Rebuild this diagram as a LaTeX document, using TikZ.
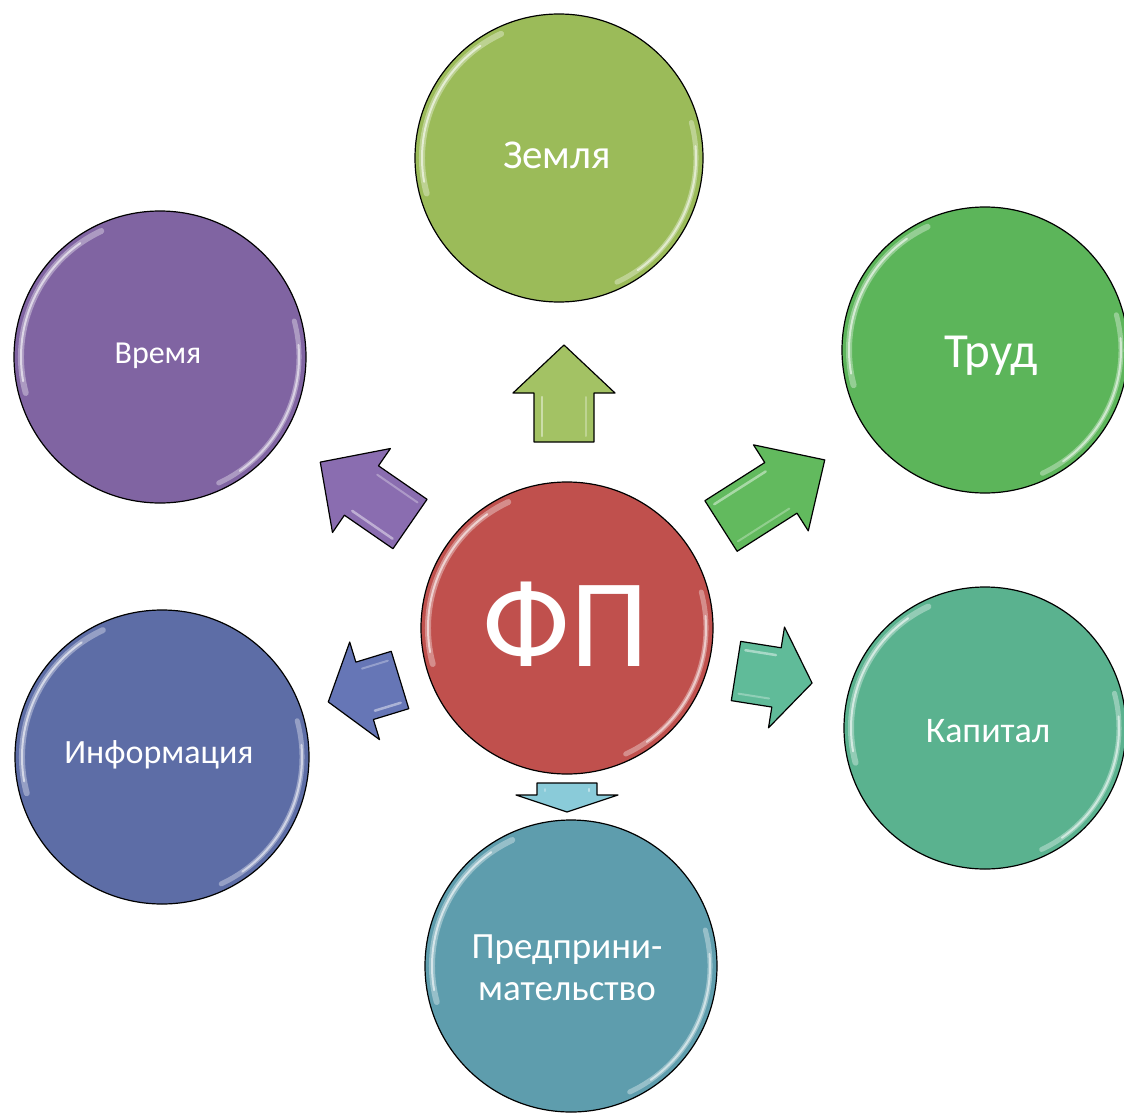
\documentclass[tikz,border=0pt]{standalone}
\usepackage{fontspec}
\setmainfont{Carlito}
\definecolor{czem}{HTML}{9BBB59}
\definecolor{cvre}{HTML}{8064A2}
\definecolor{ctru}{HTML}{5CB55A}
\definecolor{ckap}{HTML}{5AB28F}
\definecolor{cpre}{HTML}{5E9DAD}
\definecolor{cinf}{HTML}{5D6DA6}
\definecolor{cfp}{HTML}{C0504D}
\definecolor{azem}{HTML}{A3C264}
\definecolor{avre}{HTML}{8A6DB0}
\definecolor{atru}{HTML}{62BA5E}
\definecolor{akap}{HTML}{60BB99}
\definecolor{ainf}{HTML}{6676B6}
\definecolor{apre}{HTML}{8ACBD9}
\newcommand\barrow[6]{%
\begin{scope}[shift={(#1,#2)}, rotate=#3]
\filldraw[fill=#6, draw=black, line width=1.2pt, line join=round]
  (0,-30) -- (#4-#5,-30) -- (#4-#5,-51) -- (#4,0) -- (#4-#5,51) -- (#4-#5,30) -- (0,30) -- cycle;
\draw[white, opacity=.45, line width=2.5pt, line cap=round] (6,-22) -- (#4-#5-4,-22);
\draw[white, opacity=.3, line width=2pt, line cap=round] (6,22) -- (#4-#5-4,22);
\end{scope}}
\newcommand\gloss[2]{%
\draw[white, opacity=.35, line width=6pt, line cap=round] (#1.center) ++(165:#2) arc[start angle=165, end angle=245, radius=#2];
\draw[white, opacity=.6, line width=2pt, line cap=round] (#1.center) ++(170:#2) arc[start angle=170, end angle=235, radius=#2];
\draw[white, opacity=.35, line width=5pt, line cap=round] (#1.center) ++(-15:#2) arc[start angle=-15, end angle=65, radius=#2];
\draw[white, opacity=.55, line width=2pt, line cap=round] (#1.center) ++(-5:#2) arc[start angle=-5, end angle=55, radius=#2];}
\begin{document}
\begin{tikzpicture}[x=1pt,y=-1pt,
  ball/.style={circle, draw=black, line width=1.2pt, minimum size=#1, inner sep=0pt},
  lbl/.style={text=white, align=center, inner sep=0pt}]
\useasboundingbox (0,0) rectangle (1124,1113);
% arrows
\barrow{564}{442}{90}{97}{48}{azem}
\barrow{410}{524}{145.4}{109}{50}{avre}
\barrow{721}{526}{32.5}{123}{52}{atru}
\barrow{736}{671}{-9}{77}{36}{akap}
\barrow{400}{680}{197}{75}{38}{ainf}
\barrow{567}{783}{-90}{29}{17}{apre}
% circles
\node[ball=292pt, fill=cfp] (fp) at (567,628) {};
\node[ball=288pt, fill=czem] (zem) at (559,158) {};
\node[ball=292pt, fill=cvre] (vre) at (160,357) {};
\node[ball=286pt, fill=ctru] (tru) at (985,350) {};
\node[ball=294pt, fill=cinf] (inf) at (162,757) {};
\node[ball=282pt, fill=ckap] (kap) at (985,728) {};
\node[ball=292pt, fill=cpre] (pre) at (571,966) {};
\gloss{fp}{139}
\gloss{zem}{137}
\gloss{vre}{139}
\gloss{tru}{136}
\gloss{inf}{140}
\gloss{kap}{134}
\gloss{pre}{139}
% labels
\node[lbl, font=\fontsize{126}{126}\selectfont] (tfp) at (566,624) {ФП};
\node[lbl, font=\fontsize{41}{48}\selectfont] (tzem) at (557,155) {Земля};
\node[lbl, font=\fontsize{32}{38}\selectfont] (tvre) at (158,356) {Время};
\node[lbl, font=\fontsize{49}{56}\selectfont] (ttru) at (991,356) {Труд};
\node[lbl, font=\fontsize{34}{40}\selectfont] (tinf) at (159,755) {Информация};
\node[lbl, font=\fontsize{36}{42}\selectfont] (tkap) at (988,731) {Капитал};
\node[lbl, font=\fontsize{37}{42}\selectfont] (tpre) at (567,968) {Предприни-\\мательство};
\end{tikzpicture}
\end{document}
